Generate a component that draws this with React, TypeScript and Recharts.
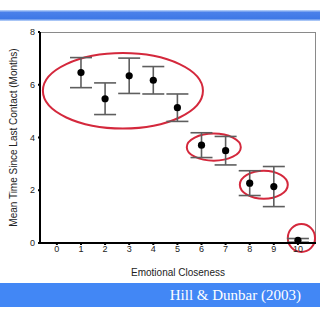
import React from "react";
import {
  ScatterChart,
  Scatter,
  XAxis,
  YAxis,
  ErrorBar,
  ReferenceArea,
} from "recharts";

const closeness = [1, 2, 3, 4, 5, 6, 7, 8, 9, 10];
const meanMonths = [6.46, 5.47, 6.34, 6.17, 5.13, 3.71, 3.5, 2.27, 2.14, 0.1];
const errMonths = [0.57, 0.6, 0.67, 0.52, 0.52, 0.47, 0.54, 0.47, 0.76, 0.07];
const xTicks = [0, 1, 2, 3, 4, 5, 6, 7, 8, 9, 10];
const yTicks = [0, 2, 4, 6, 8];

// ellipse annotations in data coordinates: [x1, x2, y1, y2]
const ellipses = [
  [-0.58, 6.06, 4.34, 7.2],
  [5.39, 7.63, 3.12, 4.15],
  [7.59, 9.58, 1.68, 2.74],
  [9.58, 10.71, -0.34, 0.72],
];

const data = closeness.map((c, i) => ({
  x: c,
  y: meanMonths[i],
  err: errMonths[i],
}));

const Dot = (p: any) => <circle cx={p.cx} cy={p.cy} r={3.6} fill="#000" />;

const EllipseShape = (p: any) => (
  <ellipse
    cx={p.x + p.width / 2}
    cy={p.y + p.height / 2}
    rx={Math.abs(p.width) / 2}
    ry={Math.abs(p.height) / 2}
    fill="none"
    stroke="#d4283c"
    strokeWidth={2}
  />
);

export default function App() {
  return (
    <div
      style={{
        position: "absolute",
        left: 0,
        top: 0,
        width: 320,
        height: 320,
        background: "#fff",
        overflow: "hidden",
      }}
    >
      <div
        style={{
          position: "absolute",
          left: 0,
          top: 10,
          width: 320,
          height: 11,
          background:
            "linear-gradient(to bottom, #c4dafa 0%, #4a80ea 22%, #3e78e6 78%, #c4dafa 100%)",
        }}
      />
      <div
        style={{
          position: "absolute",
          left: 0,
          top: 283,
          width: 320,
          height: 24,
          background: "#4287f5",
        }}
      />
      <div
        style={{
          position: "absolute",
          right: 19,
          top: 283,
          height: 24,
          lineHeight: "24px",
          color: "#fff",
          fontFamily: "'Liberation Serif', 'Times New Roman', serif",
          fontSize: 15,
        }}
      >
        Hill &amp; Dunbar (2003)
      </div>
      <div
        style={{
          position: "absolute",
          left: 40,
          top: 32,
          width: 275,
          height: 211,
          borderTop: "1px solid #8a8a8a",
          borderRight: "1px solid #8a8a8a",
        }}
      />
      <div style={{ position: "absolute", left: 0, top: 0 }}>
        <ScatterChart
          width={320}
          height={320}
          margin={{ top: 32, right: 4, left: 0, bottom: 0 }}
          style={{ fontFamily: "'Liberation Sans', Arial, sans-serif" }}
        >
          <XAxis
            type="number"
            dataKey="x"
            domain={[-0.7, 10.75]}
            ticks={xTicks}
            interval={0}
            height={77}
            axisLine={{ stroke: "#000", strokeWidth: 2 }}
            tickLine={{ stroke: "#000", strokeWidth: 2 }}
            tickSize={2}
            tickMargin={1}
            tick={{ fontSize: 9, fill: "#222" }}
            label={{
              value: "Emotional Closeness",
              position: "insideTop",
              offset: 26,
              fontSize: 10,
              fill: "#222",
            }}
          />
          <YAxis
            type="number"
            dataKey="y"
            domain={[0, 8]}
            ticks={yTicks}
            interval={0}
            width={40}
            axisLine={{ stroke: "#000", strokeWidth: 2 }}
            tickLine={{ stroke: "#000", strokeWidth: 2 }}
            tickSize={2}
            tickMargin={3}
            tick={{ fontSize: 9, fill: "#222" }}
            label={{
              value: "Mean Time Since Last Contact (Months)",
              angle: -90,
              position: "insideLeft",
              offset: 13,
              fontSize: 10,
              fill: "#222",
              style: { textAnchor: "middle" },
            }}
          />
          <Scatter data={data} shape={Dot} isAnimationActive={false}>
            <ErrorBar
              dataKey="err"
              direction="y"
              width={11}
              stroke="#5e5e5e"
              strokeWidth={1.6}
            />
          </Scatter>
          {ellipses.map((e, i) => (
            <ReferenceArea
              key={i}
              x1={e[0]}
              x2={e[1]}
              y1={e[2]}
              y2={e[3]}
              ifOverflow="visible"
              shape={EllipseShape}
            />
          ))}
        </ScatterChart>
      </div>
    </div>
  );
}
